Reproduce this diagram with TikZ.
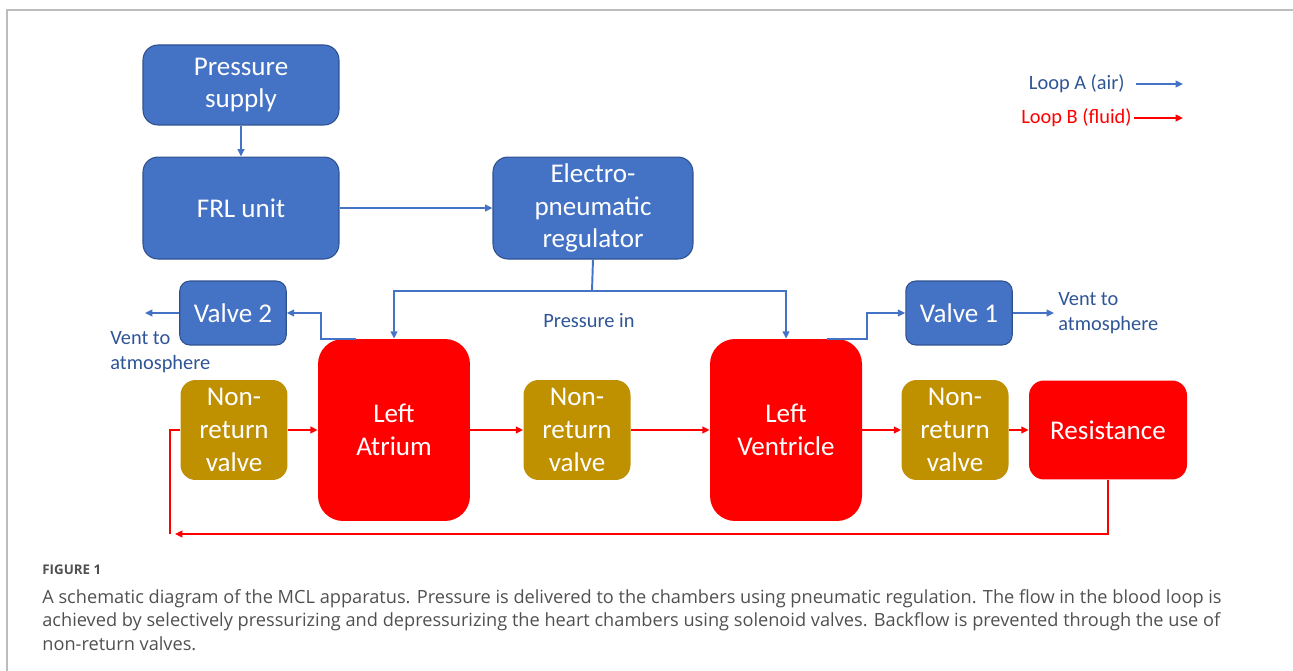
\documentclass[tikz,border=0pt]{standalone}
\usepackage{fontspec}
\setmainfont{Carlito}
\newfontfamily\captionfont{Open Sans}
\usetikzlibrary{positioning}
\usetikzlibrary{arrows.meta}

\definecolor{airblue}{HTML}{4472C4}
\definecolor{airedge}{HTML}{2F528F}
\definecolor{airtext}{HTML}{2F5597}
\definecolor{fluidred}{HTML}{FF0000}
\definecolor{valvegold}{HTML}{BF9000}
\definecolor{framegray}{HTML}{BDBDBD}
\definecolor{captiongray}{HTML}{505050}

\tikzset{
  box/.style={rectangle, align=center, inner sep=0pt, text=white,
    font=\fontsize{15.4}{18.6}\selectfont},
  airbox/.style={box, fill=airblue, draw=airedge, line width=0.6pt,
    rounded corners=0.3cm, minimum width=3.92cm},
  valvebox/.style={box, fill=airblue, draw=airedge, line width=0.6pt,
    rounded corners=0.2cm, minimum width=2.13cm, minimum height=1.28cm},
  chamber/.style={box, fill=fluidred, rounded corners=0.5cm,
    minimum width=3.04cm, minimum height=3.64cm},
  nrvbox/.style={box, fill=valvegold, rounded corners=0.3cm,
    minimum width=2.14cm, minimum height=2cm},
  smalltext/.style={inner sep=0pt, text=airtext, align=left,
    font=\fontsize{11.6}{14}\selectfont},
  air/.style={draw=airblue, line width=1.1pt, -{Triangle[length=4.2pt,width=3.8pt]}},
  airline/.style={draw=airblue, line width=1.1pt},
  fluid/.style={draw=fluidred, line width=1.4pt, -{Triangle[length=4.2pt,width=3.8pt]}},
  fluidline/.style={draw=fluidred, line width=1.4pt}
}

\begin{document}
\begin{tikzpicture}[x=0.02cm, y=-0.02cm]
  \useasboundingbox (0,0) rectangle (1293,671);
  \draw[framegray, line width=0.8pt] (7,671) -- (7,10) -- (1293,10);

  % air side
  \node[airbox, minimum height=1.6cm] (supply) at (241,85) {Pressure\\supply};
  \node[airbox, minimum height=2.04cm, below=0.62cm of supply] (frl) {FRL unit};
  \node[airbox, minimum width=4cm, minimum height=2.04cm, right=3.06cm of frl] (reg) {Electro-\\pneumatic\\regulator};
  \node[valvebox] (v2) at (233,313) {Valve 2};
  \node[valvebox] (v1) at (959,313) {Valve 1};

  % fluid side
  \node[chamber] (la) at (394,430) {Left\\Atrium};
  \node[chamber] (lv) at (786,430) {Left\\Ventricle};
  \node[nrvbox] (nrv1) at (234,430) {Non-\\return\\valve};
  \node[nrvbox] (nrv2) at (577,430) {Non-\\return\\valve};
  \node[nrvbox] (nrv3) at (955,430) {Non-\\return\\valve};
  \node[box, fill=fluidred, rounded corners=0.3cm, minimum width=3.16cm, minimum height=1.98cm] (res) at (1108,430) {Resistance};

  % labels
  \node[smalltext] (pin) at (589,321) {Pressure in};
  \node[smalltext, anchor=west] (vent2) at (110,352) {Vent to\\atmosphere};
  \node[smalltext, anchor=west] (vent1) at (1058,313) {Vent to\\atmosphere};
  \node[smalltext, anchor=east] (loopa) at (1125,84) {Loop A (air)};
  \node[smalltext, anchor=east, text=fluidred] (loopb) at (1132,118) {Loop B (fluid)};

  \coordinate (loopaend) at (1183,84);
  \coordinate (loopbend) at (1183,118);
  \coordinate (bus) at (592,291);
  \coordinate (laout) at ([xshift=-0.76cm]la.north);
  \coordinate (lvout) at ([xshift=0.82cm]lv.north);
  \coordinate (vent2end) at (145,313);
  \coordinate (vent1end) at (1054,313);
  \coordinate (ret) at (170,534);

  \draw[air] ([xshift=0.22cm]loopa.east) -- (loopaend);
  \draw[fluid] ([xshift=0.04cm]loopb.east) -- (loopbend);

  \draw[air] (supply) -- (frl);
  \draw[air] (frl) -- (reg);
  \draw[air] (reg.south) -- (bus) -| (la.north);
  \draw[air] (bus) -| (lv.north);
  \draw[air] (laout) -| ([xshift=0.68cm]v2.east) -- (v2.east);
  \draw[air] (lvout) -| ([xshift=-0.76cm]v1.west) -- (v1.west);
  \draw[air] (v2) -- (vent2end);
  \draw[air] (v1) -- (vent1end);

  \draw[fluid] (nrv1) -- (la);
  \draw[fluid] (la) -- (nrv2);
  \draw[fluid] (nrv2) -- (lv);
  \draw[fluid] (lv) -- (nrv3);
  \draw[fluid] (nrv3) -- (res);
  \draw[fluid] (res.south) |- ([xshift=0.1cm]ret);
  \draw[fluidline] (ret) |- (nrv1.west);

  % caption
  \node[anchor=west, inner sep=0pt, text=captiongray, font=\captionfont\bfseries\fontsize{7.6}{9}\selectfont] (figno) at (42,570) {FIGURE 1};
  \node[anchor=north west, inner sep=0pt, align=left, text=captiongray, font=\captionfont\fontsize{10.35}{13.4}\selectfont] (caption) at (42,589) {A schematic diagram of the MCL apparatus. Pressure is delivered to the chambers using pneumatic regulation. The flow in the blood loop is\\achieved by selectively pressurizing and depressurizing the heart chambers using solenoid valves. Backflow is prevented through the use of\\non-return valves.};
\end{tikzpicture}
\end{document}
